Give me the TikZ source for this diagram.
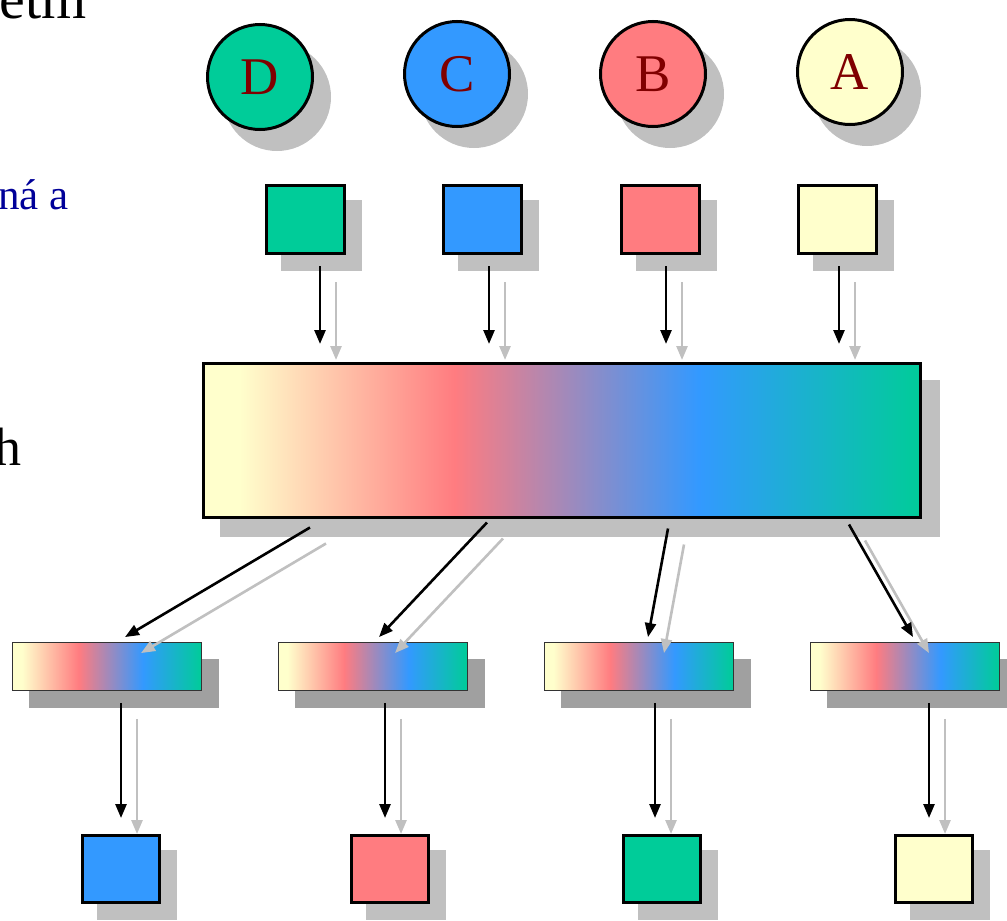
\documentclass[tikz,border=0pt]{standalone}
\usepackage{fontspec}
\setmainfont{Liberation Serif}
\usetikzlibrary{arrows.meta,calc}
\definecolor{cy}{HTML}{FFFFCC}
\definecolor{cr}{HTML}{FF7C80}
\definecolor{cb}{HTML}{3399FF}
\definecolor{cg}{HTML}{00CC99}
\definecolor{shd}{HTML}{C0C0C0}
\definecolor{shdd}{HTML}{A0A0A0}
\definecolor{lett}{HTML}{800000}
\definecolor{txtblue}{HTML}{000099}
\pgfdeclarehorizontalshading{spect}{100bp}{color(0bp)=(cy); color(25bp)=(cy); color(27.5bp)=(cy); color(42.5bp)=(cr); color(59.5bp)=(cb); color(75bp)=(cg); color(100bp)=(cg)}
\tikzset{
  circ/.style={circle, draw=black, line width=3pt, minimum size=105pt, inner sep=0pt, font=\fontsize{53}{55}\selectfont, text=lett},
  circsh/.style={circle, fill=shd, minimum size=108pt, inner sep=0pt},
  sq/.style={rectangle, draw=black, line width=3pt, minimum width=78pt, minimum height=68pt, inner sep=0pt},
  sqsh/.style={rectangle, fill=shd, minimum width=81pt, minimum height=71pt, inner sep=0pt},
  bigbox/.style={rectangle, draw=black, line width=3pt, shading=spect, minimum width=717pt, minimum height=154pt, inner sep=0pt},
  bigsh/.style={rectangle, fill=shd, minimum width=720pt, minimum height=157pt, inner sep=0pt},
  bar/.style={rectangle, draw=black!80, line width=0.9pt, shading=spect, minimum width=189pt, minimum height=48pt, inner sep=0pt},
  barsh/.style={rectangle, fill=shdd, minimum width=190pt, minimum height=49pt, inner sep=0pt},
  bsq/.style={rectangle, draw=black, line width=3pt, minimum width=77pt, minimum height=67pt, inner sep=0pt},
  bsqsh/.style={rectangle, fill=shd, minimum width=80pt, minimum height=70pt, inner sep=0pt},
  blk/.style={line width=2.6pt, draw=black, -{Triangle[length=14pt,width=11pt]}},
  gry/.style={line width=2.6pt, draw=shd, -{Triangle[length=14pt,width=11pt]}},
  sidetxt/.style={anchor=base east, inner sep=0pt}
}
\begin{document}
\begin{tikzpicture}[x=1pt,y=-1pt]
\useasboundingbox[fill=white] (0,0) rectangle (1007,921);

% side texts (cut off at the left edge)
\node[sidetxt, font=\fontsize{58}{60}\selectfont] (t1) at (87,18) {etm};
\node[sidetxt, font=\fontsize{43}{46}\selectfont, text=txtblue] (t2) at (69,209) {ná a};
\node[sidetxt, font=\fontsize{54}{58}\selectfont] (t3) at (22,465) {h};

% shadows
\node[circsh] (cDs) at (277,97) {};
\node[circsh] (cCs) at (474,94) {};
\node[circsh] (cBs) at (670,94) {};
\node[circsh] (cAs) at (867,92) {};
\node[sqsh] (sDs) at (321.5,235.5) {};
\node[sqsh] (sCs) at (498,235.5) {};
\node[sqsh] (sBs) at (676,235.5) {};
\node[sqsh] (sAs) at (853,235.5) {};
\node[bigsh] (mixs) at (580,458.5) {};
\node[barsh] (b1s) at (124,683.5) {};
\node[barsh] (b2s) at (389.5,683.5) {};
\node[barsh] (b3s) at (655.5,683.5) {};
\node[barsh] (b4s) at (921.5,683.5) {};
\node[bsqsh] (q1s) at (137,885) {};
\node[bsqsh] (q2s) at (406,885) {};
\node[bsqsh] (q3s) at (678,885) {};
\node[bsqsh] (q4s) at (950,885) {};

% circles
\node[circ, fill=cg] (cD) at (260,77) {D};
\node[circ, fill=cb] (cC) at (457,74) {C};
\node[circ, fill=cr] (cB) at (653,74) {B};
\node[circ, fill=cy] (cA) at (850,72) {A};

% top squares
\node[sq, fill=cg] (sD) at (305.5,219.5) {};
\node[sq, fill=cb] (sC) at (482,219.5) {};
\node[sq, fill=cr] (sB) at (660,219.5) {};
\node[sq, fill=cy] (sA) at (837,219.5) {};

% mixed box
\node[bigbox] (mix) at (562,440.5) {};

% bars
\node[bar] (b1) at (107,666.5) {};
\node[bar] (b2) at (372.5,666.5) {};
\node[bar] (b3) at (638.5,666.5) {};
\node[bar] (b4) at (904.5,666.5) {};

% bottom squares
\node[bsq, fill=cb] (q1) at (121,869) {};
\node[bsq, fill=cr] (q2) at (390,869) {};
\node[bsq, fill=cg] (q3) at (662,869) {};
\node[bsq, fill=cy] (q4) at (934,869) {};

% arrows: squares -> mixed box
\foreach \s/\dx in {sD/14.5, sC/7, sB/6, sA/2} {
  \coordinate (t\s) at ($(\s.south)+(\dx,11)$);
  \draw[gry] ($(t\s)+(16,16)$) -- ($(t\s |- mix.north)+(16,-2)$);
  \draw[blk] (t\s) -- ($(t\s |- mix.north)+(0,-18)$);
}

% arrows: mixed box -> bars
\foreach \b/\tx/\ty/\hx in {b1/-252/8.5/18, b2/-75/3.5/6.5, b3/106/9.5/9.5, b4/287/5.5/8.5} {
  \coordinate (m\b) at ($(mix.south)+(\tx,\ty)$);
  \coordinate (h\b) at ($(\b.north)+(\hx,-5)$);
  \draw[gry] ($(m\b)+(16,16)$) -- ($(h\b)+(16,16)$);
  \draw[blk] (m\b) -- (h\b);
}

% arrows: bars -> bottom squares
\foreach \b/\q/\dx in {b1/q1/14, b2/q2/12.5, b3/q3/16.5, b4/q4/24.5} {
  \coordinate (u\b) at ($(\b.south)+(\dx,12)$);
  \draw[gry] ($(u\b)+(16,16)$) -- ($(u\b |- \q.north)+(16,0)$);
  \draw[blk] (u\b) -- ($(u\b |- \q.north)+(0,-16)$);
}
\end{tikzpicture}
\end{document}
